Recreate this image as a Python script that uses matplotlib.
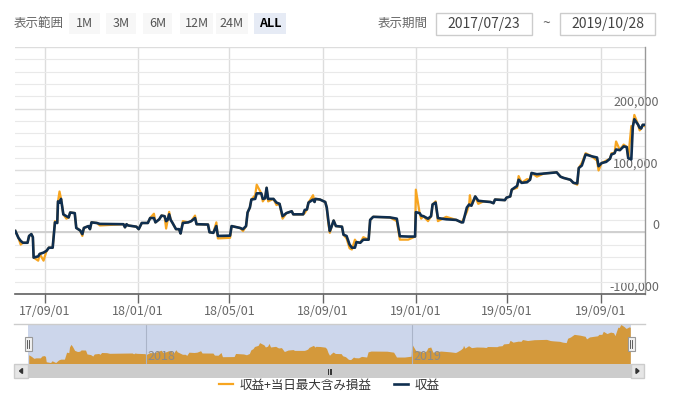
import matplotlib
matplotlib.use('Agg')
import matplotlib.pyplot as plt
import matplotlib.dates as mdates
import matplotlib.transforms as mtrans
from matplotlib.patches import Rectangle, Polygon
from matplotlib.lines import Line2D
from matplotlib.ticker import MultipleLocator
import pandas as pd

plt.rcParams['font.family'] = ['Noto Sans CJK JP', 'DejaVu Sans']

# ---------------- data ----------------
dates = [
    '2017-07-24', '2017-07-28', '2017-07-31', '2017-08-03', '2017-08-09', '2017-08-11', '2017-08-14', '2017-08-16', '2017-08-17', '2017-08-23',
    '2017-08-25', '2017-08-30', '2017-09-03', '2017-09-06', '2017-09-11', '2017-09-14', '2017-09-17', '2017-09-18', '2017-09-20', '2017-09-22',
    '2017-09-25', '2017-09-29', '2017-10-02', '2017-10-04', '2017-10-10', '2017-10-12', '2017-10-17', '2017-10-20', '2017-10-22', '2017-10-28',
    '2017-10-30', '2017-11-01', '2017-11-08', '2017-11-12', '2017-12-13', '2017-12-15', '2017-12-17', '2017-12-19', '2017-12-30', '2018-01-02',
    '2018-01-06', '2018-01-14', '2018-01-17', '2018-01-22', '2018-01-24', '2018-01-29', '2018-02-01', '2018-02-05', '2018-02-07', '2018-02-09',
    '2018-02-11', '2018-02-13', '2018-02-15', '2018-02-20', '2018-02-24', '2018-02-26', '2018-03-01', '2018-03-08', '2018-03-12', '2018-03-17',
    '2018-03-19', '2018-04-03', '2018-04-05', '2018-04-10', '2018-04-14', '2018-04-16', '2018-05-02', '2018-05-04', '2018-05-15', '2018-05-19',
    '2018-05-23', '2018-05-25', '2018-05-28', '2018-05-30', '2018-06-04', '2018-06-06', '2018-06-12', '2018-06-14', '2018-06-17', '2018-06-19',
    '2018-06-21', '2018-06-28', '2018-07-02', '2018-07-06', '2018-07-10', '2018-07-15', '2018-07-22', '2018-07-24', '2018-08-06', '2018-08-08',
    '2018-08-11', '2018-08-13', '2018-08-19', '2018-08-21', '2018-08-22', '2018-08-28', '2018-09-04', '2018-09-06', '2018-09-08', '2018-09-10',
    '2018-09-12', '2018-09-15', '2018-09-18', '2018-09-26', '2018-09-28', '2018-10-02', '2018-10-06', '2018-10-09', '2018-10-13', '2018-10-15',
    '2018-10-20', '2018-10-24', '2018-10-31', '2018-11-02', '2018-11-06', '2018-11-28', '2018-12-07', '2018-12-11', '2018-12-22', '2018-12-31',
    '2019-01-01', '2019-01-06', '2019-01-08', '2019-01-11', '2019-01-17', '2019-01-21', '2019-01-23', '2019-01-27', '2019-01-30', '2019-02-10',
    '2019-02-23', '2019-03-02', '2019-03-04', '2019-03-09', '2019-03-12', '2019-03-13', '2019-03-15', '2019-03-20', '2019-03-24', '2019-03-31',
    '2019-04-09', '2019-04-13', '2019-04-15', '2019-04-28', '2019-04-30', '2019-05-05', '2019-05-07', '2019-05-14', '2019-05-16', '2019-05-20',
    '2019-05-27', '2019-05-31', '2019-06-02', '2019-06-09', '2019-06-18', '2019-07-05', '2019-07-10', '2019-07-14', '2019-07-23', '2019-07-27',
    '2019-08-01', '2019-08-03', '2019-08-07', '2019-08-12', '2019-08-20', '2019-08-27', '2019-08-29', '2019-09-02', '2019-09-08', '2019-09-13',
    '2019-09-15', '2019-09-19', '2019-09-21', '2019-09-26', '2019-10-01', '2019-10-05', '2019-10-07', '2019-10-11', '2019-10-13', '2019-10-15',
    '2019-10-20', '2019-10-22', '2019-10-24', '2019-10-26', '2019-10-28']

# 収益 (navy)
profit = [
    2000, -9000, -14000, -17000, -17000, -6000, -3000, -8000, -41000, -39000,
    -35000, -33000, -30000, -25000, -25000, 16000, 15000, 50000, 48000, 54000,
    29000, 26000, 24000, 32000, 31000, 7000, 3000, -3000, 7000, 10000,
    5000, 16000, 15000, 13500, 13000, 8000, 13000, 11000, 9000, 5000,
    15000, 15000, 23000, 23000, 16000, 21000, 27000, 26000, 18000, 20000,
    29000, 20000, 16000, 5000, 5000, -2000, 15000, 16000, 18000, 23000,
    13000, 12500, 0, -1000, 10000, -6000, -5500, 10000, 7000, 5000,
    10000, 32000, 40000, 53000, 54000, 63000, 63000, 54000, 55000, 72000,
    54000, 54000, 48000, 46000, 26000, 31000, 34000, 29000, 29000, 36000,
    37000, 48000, 53000, 49000, 54000, 53000, 49000, 40000, 20000, 2000,
    8000, 19000, 10000, 9000, -4000, -6000, -20000, -25000, -25000, -16000,
    -17000, -12000, -12000, 20000, 25000, 24000, 22000, -6500, -7000, -7000,
    32500, 31000, 27000, 26000, 22000, 26000, 45000, 48000, 23000, 21000,
    20000, 16000, 16000, 40000, 45000, 44000, 43000, 58000, 51000, 50000,
    49000, 47000, 53000, 52000, 56000, 58000, 69000, 75000, 85000, 80000,
    81000, 85000, 96000, 94000, 95000, 97000, 90000, 88000, 85000, 80000,
    79000, 104000, 108000, 126000, 123000, 121000, 107000, 112000, 114000, 119000,
    126000, 128000, 134000, 133000, 139000, 138000, 120000, 118000, 171000, 183000,
    174000, 169000, 168000, 174000, 174000]

# 収益+当日最大含み損益 (orange)
profit_max = [
    2000, -9000, -20000, -17000, -17000, -6000, -3000, -8000, -41000, -46000,
    -35000, -46000, -30000, -25000, -25000, 18000, 15000, 50000, 66000, 54000,
    29000, 22000, 24000, 32000, 31000, 7000, 3000, -6000, 7000, 10000,
    5000, 16000, 15000, 11000, 13000, 8000, 13000, 11000, 9000, 5000,
    15000, 15000, 23000, 30000, 16000, 21000, 27000, 26000, 6000, 20000,
    33000, 20000, 16000, 5000, 5000, -2000, 18000, 16000, 18000, 27000,
    13000, 12500, 0, -1000, 16000, -10000, -9000, 10000, 7000, 2000,
    10000, 32000, 40000, 53000, 60000, 77000, 63000, 50000, 55000, 72000,
    50000, 54000, 44000, 46000, 22000, 31000, 34000, 29000, 29000, 31000,
    37000, 48000, 60000, 49000, 54000, 53000, 49000, 40000, 15000, -1000,
    8000, 19000, 10000, 9000, -4000, -10000, -26000, -28000, -12000, -16000,
    -17000, -8000, -12000, 20000, 25000, 24000, 18000, -12000, -12000, -7000,
    69000, 31000, 22000, 26000, 18000, 26000, 45000, 50000, 18000, 25000,
    20000, 16000, 20000, 33000, 45000, 60000, 43000, 58000, 46000, 50000,
    49000, 47000, 53000, 52000, 56000, 58000, 69000, 72000, 91000, 80000,
    86000, 85000, 96000, 90000, 95000, 97000, 90000, 88000, 85000, 80000,
    77000, 104000, 112000, 128000, 123000, 116000, 100000, 112000, 116000, 119000,
    128000, 128000, 147000, 133000, 142000, 138000, 120000, 172000, 171000, 190000,
    174000, 165000, 168000, 174000, 172000]

x_range = ['2017-07-23', '2019-10-29']
x_ticks = ['2017-09-01', '2018-01-01', '2018-05-01', '2018-09-01',
           '2019-01-01', '2019-05-01', '2019-09-01']
y_ticks = [-100000, 0, 100000, 200000, 300000]
y_tick_labels = ['-100,000', '0', '100,000', '200,000', '']
nav_years = ['2018-01-01', '2019-01-01']
nav_year_labels = ['2018', '2019']
series_names = ['収益+当日最大含み損益', '収益']
range_buttons = ['1M', '3M', '6M', '12M', '24M', 'ALL']
period_from, period_to = '2017/07/23', '2019/10/28'

ORANGE = '#f7a520'
NAVY = '#0f2e4f'

# ---------------- figure ----------------
W, H = 685, 401
fig = plt.figure(figsize=(W / 100, H / 100), dpi=100)


def fx(px):
    return px / W


def fy(py):
    return 1 - py / H


d = pd.to_datetime(dates)
xlim = (pd.Timestamp(x_range[0]), pd.Timestamp(x_range[1]))

# main chart
ax = fig.add_axes([fx(14.6), fy(294), (645 - 14.6) / W, (294 - 47) / H])
ax.set_xlim(*xlim)
ax.set_ylim(-100000, 300000)
l_or, = ax.plot(d, profit_max, color=ORANGE, lw=1.6, zorder=3)
l_nv, = ax.plot(d, profit, color=NAVY, lw=1.9, zorder=4)

ax.set_axisbelow(True)
ax.yaxis.set_minor_locator(MultipleLocator(20000))
ax.set_yticks(y_ticks)
ax.set_yticklabels(y_tick_labels)
ax.grid(which='minor', axis='y', color='#e9e9e9', lw=0.8)
ax.grid(which='major', axis='y', color='#dddddd', lw=1.0)
ax.grid(which='major', axis='x', color='#dddddd', lw=1.0)
ax.axhline(0, color='#d0d0d0', lw=1.4, zorder=1)

ax.yaxis.tick_right()
ax.tick_params(axis='y', which='both', length=0, pad=10, labelsize=9,
               labelcolor='#666666', labelright=True, labelleft=False)
for lbl in ax.get_yticklabels():
    lbl.set_horizontalalignment('right')
    lbl.set_verticalalignment('bottom')

ax.set_xticks(pd.to_datetime(x_ticks))
ax.xaxis.set_major_formatter(mdates.DateFormatter('%y/%m/%d'))
ax.tick_params(axis='x', length=6.5, width=1, color='#666666', pad=1.5,
               labelsize=9, labelcolor='#666666')

for s in ['top', 'left']:
    ax.spines[s].set_visible(False)
ax.spines['bottom'].set_color('#606060')
ax.spines['bottom'].set_linewidth(1.2)
ax.spines['right'].set_color('#999999')
ax.spines['right'].set_linewidth(1.0)

# navigator
nav = fig.add_axes([fx(28), fy(364), (631 - 28) / W, (364 - 324) / H])
nav.set_facecolor('#ccd6eb')
nav.set_xlim(*xlim)
nav_ylim = (-55000, 192000)
nav.set_ylim(*nav_ylim)
nav.fill_between(d, profit_max, nav_ylim[0], color='#d4993b', lw=0, zorder=2)
trans = mtrans.offset_copy(nav.get_xaxis_transform(), fig=fig, x=2, y=0, units='dots')
for yd, yl in zip(nav_years, nav_year_labels):
    nav.axvline(pd.Timestamp(yd), color='#aab4c8', lw=0.8, zorder=3)
    nav.text(pd.Timestamp(yd), 0.2, yl, transform=trans, fontsize=9,
             color='#8a8a8a', va='center', ha='left', zorder=4)
nav.set_xticks([])
nav.set_yticks([])
for s in nav.spines.values():
    s.set_visible(False)

# overlay for UI elements (pixel coordinates)
ov = fig.add_axes([0, 0, 1, 1], zorder=5)
ov.set_xlim(0, W)
ov.set_ylim(H, 0)
ov.axis('off')
ov.patch.set_alpha(0)

# navigator top border
ov.add_line(Line2D([14, 645], [324, 324], color='#cccccc', lw=1))

# scrollbar
ov.add_patch(Rectangle((14, 364), 630, 14, facecolor='#cccccc', edgecolor='none'))
ov.add_patch(Rectangle((14, 364), 14, 14, facecolor='#e6e6e6', edgecolor='#cccccc', lw=1))
ov.add_patch(Rectangle((631, 364), 13, 14, facecolor='#e6e6e6', edgecolor='#cccccc', lw=1))
ov.add_patch(Polygon([(19.5, 371), (22.5, 368.5), (22.5, 373.5)], closed=True, color='#333333'))
ov.add_patch(Polygon([(639, 371), (636, 368.5), (636, 373.5)], closed=True, color='#333333'))
for gx in (328.5, 330, 331.5):
    ov.add_line(Line2D([gx, gx], [369, 373.5], color='#333333', lw=0.7))

# navigator handles
for hx in (25, 628):
    ov.add_patch(Rectangle((hx, 337), 7, 14, facecolor='#f2f2f2', edgecolor='#999999', lw=0.8))
    for lx in (hx + 2.5, hx + 4.5):
        ov.add_line(Line2D([lx, lx], [340, 348], color='#444444', lw=0.6))

# top toolbar
ov.text(14, 23.5, '表示範囲', fontsize=9, color='#666666', va='center', ha='left')
btn_x = [(69, 100), (106, 136), (143, 172), (180, 213), (216, 248), (254, 286)]
for name, (x0, x1) in zip(range_buttons, btn_x):
    sel = name == 'ALL'
    ov.add_patch(Rectangle((x0, 13), x1 - x0, 21,
                           facecolor='#e6ebf5' if sel else '#f7f7f7', edgecolor='none'))
    ov.text((x0 + x1) / 2, 23.5, name, fontsize=9, ha='center', va='center',
            color='#000000' if sel else '#555555',
            fontweight='bold' if sel else 'normal')

ov.text(378, 23.5, '表示期間', fontsize=9, color='#666666', va='center', ha='left')
for (x0, x1), txt in zip([(436, 532), (560, 655)], [period_from, period_to]):
    ov.add_patch(Rectangle((x0, 13), x1 - x0, 22, facecolor='white',
                           edgecolor='#cccccc', lw=1))
    ov.text((x0 + x1) / 2, 24, txt, fontsize=10, color='#444444', ha='center', va='center')
ov.text(546, 24, '~', fontsize=10, color='#666666', ha='center', va='center')

# legend
fig.legend(handles=[l_or, l_nv], labels=series_names, loc='center',
           bbox_to_anchor=(fx(329), fy(385)), ncol=2, frameon=False, fontsize=9,
           handlelength=1.15, handletextpad=0.5, columnspacing=1.8,
           labelcolor='#333333', borderpad=0, borderaxespad=0)

fig.savefig('out.png', dpi=100)
